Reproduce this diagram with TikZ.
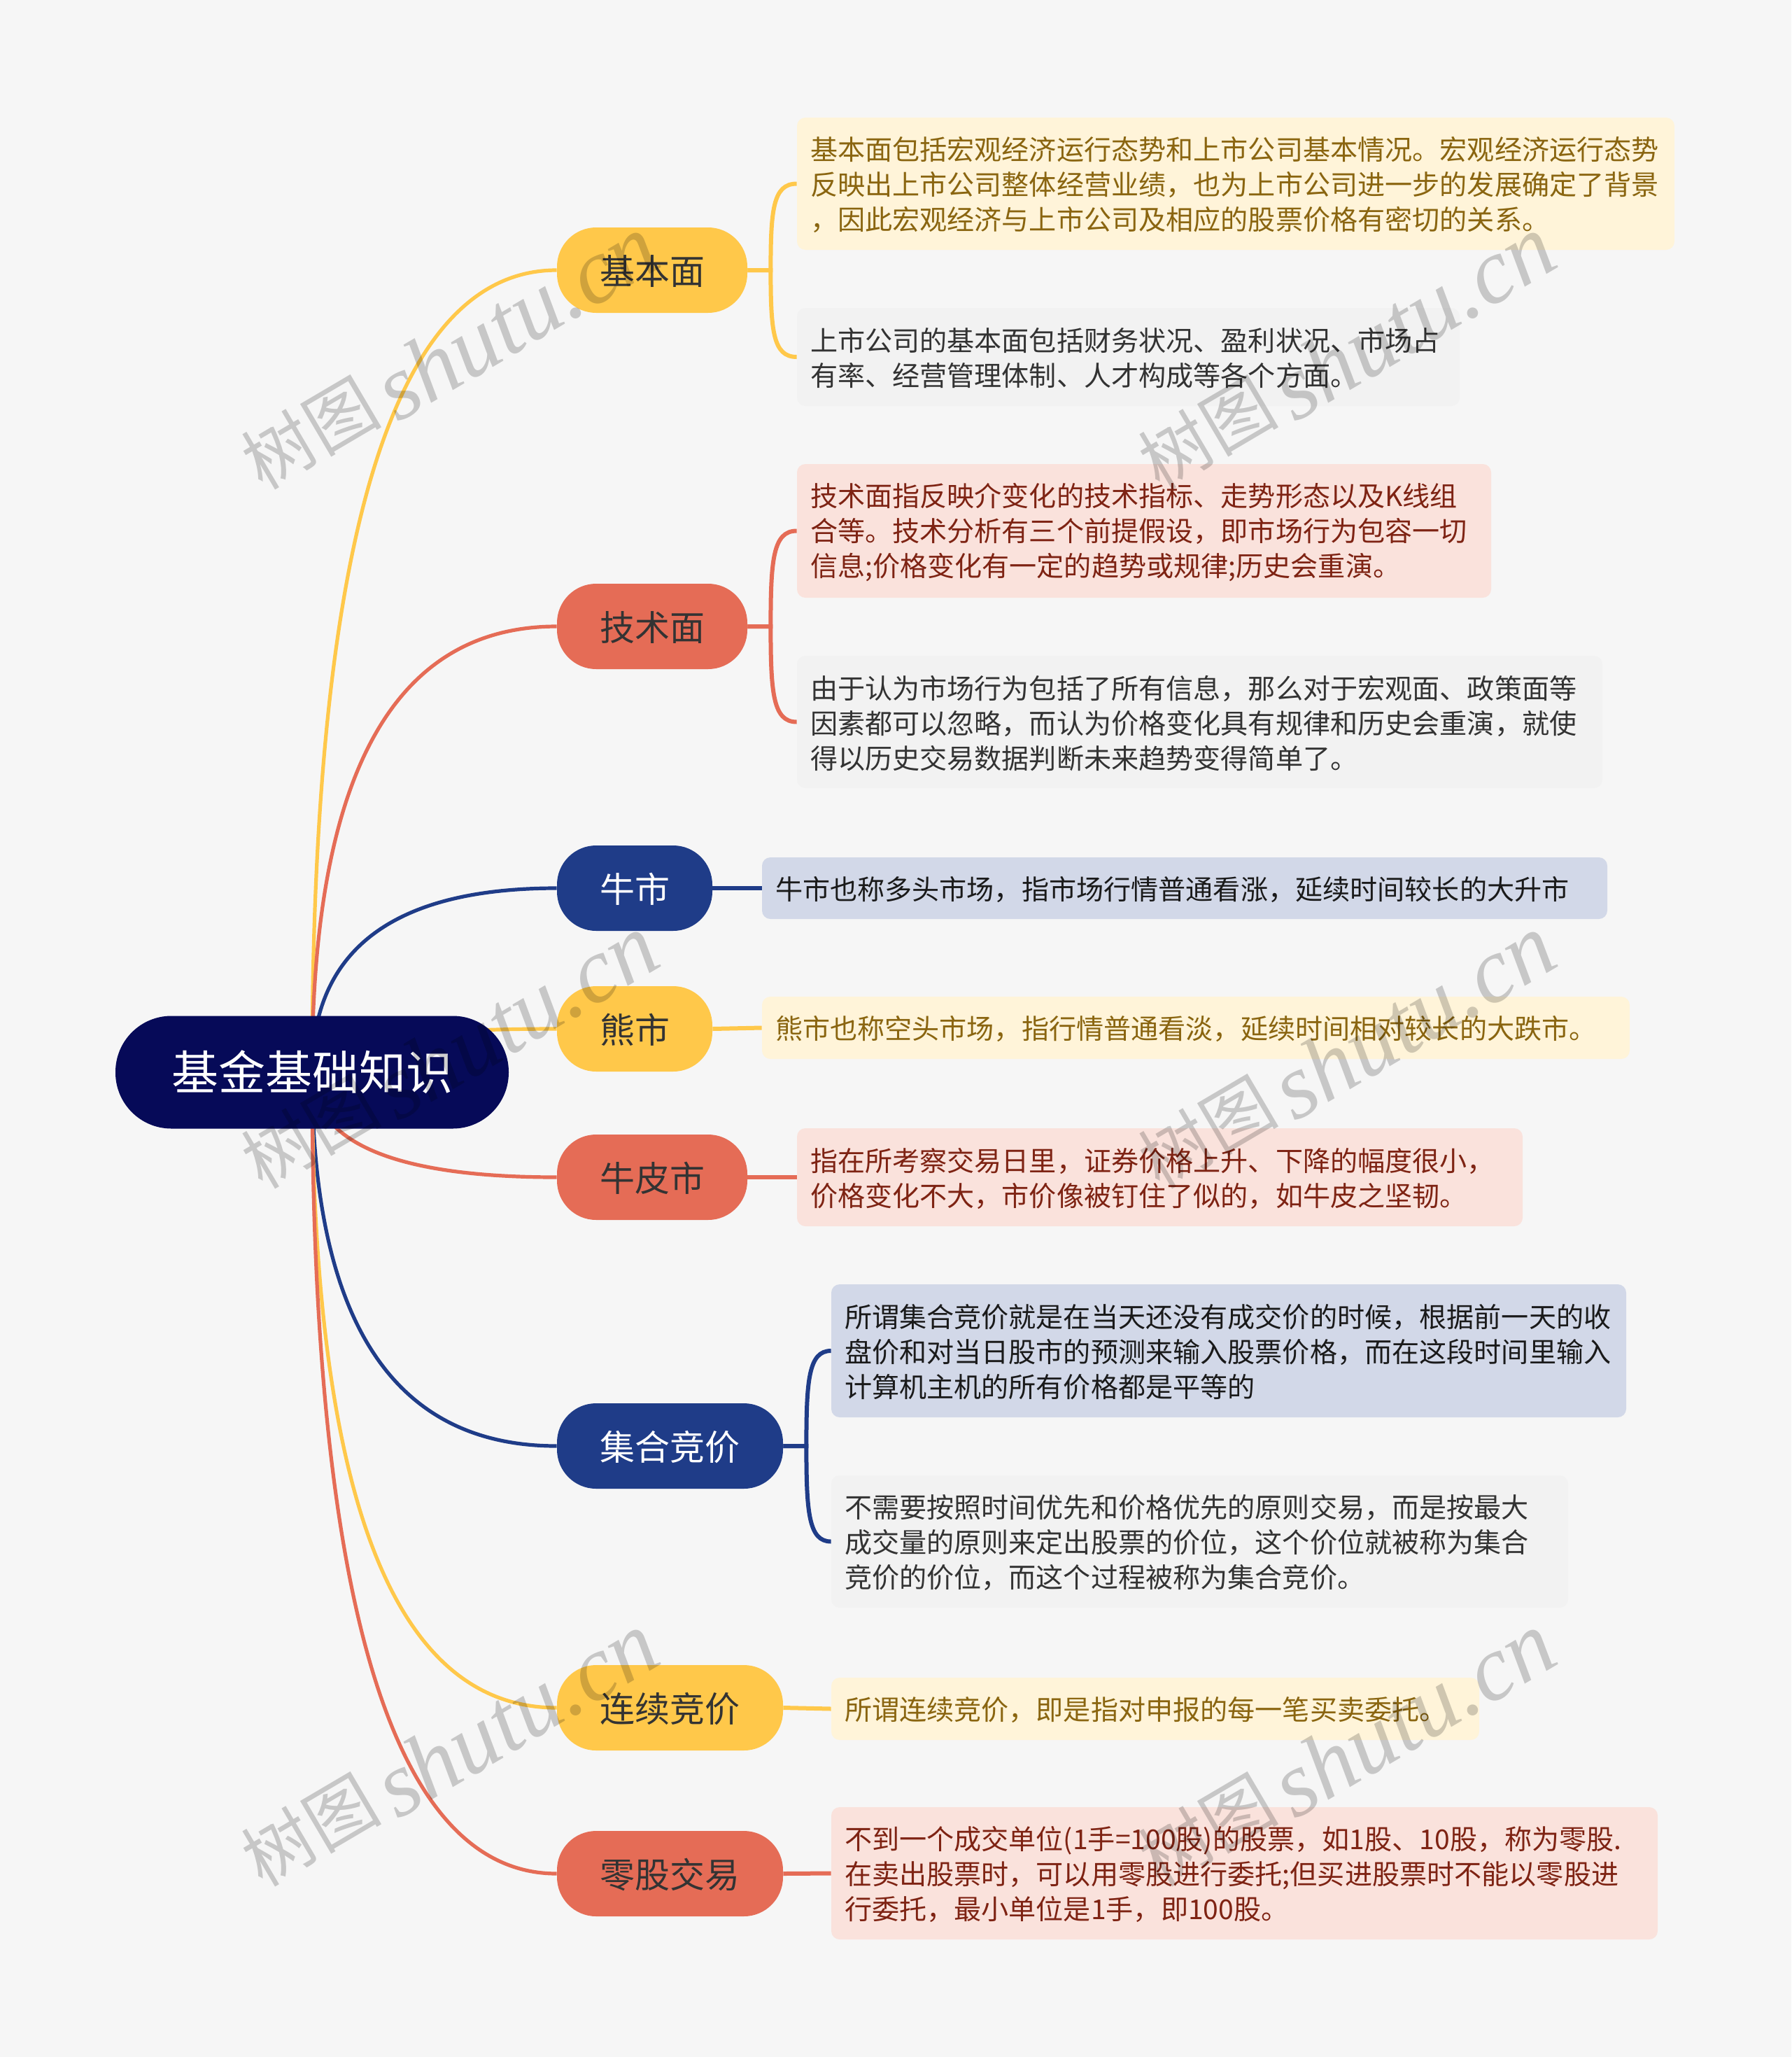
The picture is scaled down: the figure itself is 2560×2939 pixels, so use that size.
\documentclass[tikz,border=0pt]{standalone}
\usepackage{fontspec}
\setmainfont{Noto Sans CJK SC}
\newfontfamily\wmlatin{Liberation Serif}
\usetikzlibrary{calc,backgrounds}
\definecolor{bgc}{HTML}{F6F6F6}
\definecolor{ycol}{HTML}{FFC84A}
\definecolor{rcol}{HTML}{E56C56}
\definecolor{bcol}{HTML}{1F3C88}
\definecolor{navy}{HTML}{060A58}
\definecolor{yleaf}{HTML}{FFF4D9}
\definecolor{rleaf}{HTML}{FAE2DC}
\definecolor{bleaf}{HTML}{D2D8E8}
\definecolor{gleaf}{HTML}{F2F2F2}
\definecolor{ytext}{HTML}{8A6510}
\definecolor{rtext}{HTML}{7E2313}
\definecolor{dtext}{HTML}{333333}
\definecolor{ktext}{HTML}{1A1A1A}
\definecolor{wmc}{HTML}{CFCFCF}
\tikzset{
  rootnode/.style={fill=navy,text=white,rounded corners=40pt,minimum width=281pt,minimum height=80.5pt,inner sep=0pt,font=\fontsize{33.5}{40}\selectfont},
  topic/.style={rounded corners=28pt,minimum height=61pt,inner sep=0pt,text height=20.7pt,text depth=0pt,font=\fontsize{25}{30}\selectfont},
  ytopic/.style={topic,fill=ycol,text=dtext},
  rtopic/.style={topic,fill=rcol,text=dtext},
  btopic/.style={topic,fill=bcol,text=white},
  leafbase/.style={rounded corners=6pt,inner ysep=0pt,inner xsep=9.5pt,align=left,font=\fontsize{19.56}{25}\selectfont,execute at begin node={\rule{0pt}{18.5pt}}},
  yleafs/.style={leafbase,fill=yleaf,text=ytext},
  rleafs/.style={leafbase,fill=rleaf,text=rtext},
  bleafs/.style={leafbase,fill=bleaf,text=ktext},
  gleafs/.style={leafbase,fill=gleaf,text=dtext},
  lone/.style={line width=2.6pt,draw=#1},
  ltwo/.style={line width=3pt,draw=#1},
  wm/.style={text=wmc,rotate=30.5,inner sep=0pt,text height=45pt,text depth=6pt}
}
% rounded box given by its corners in reference pixels
\newcommand\leafbox[7]{%
  \pgfmathsetmacro\lw{(#5-#3)/2}\pgfmathsetmacro\lh{(#6-#4)/2}\pgfmathsetmacro\lt{\lw-19}%
  \node[#2,minimum width=\lw pt,minimum height=\lh pt,text width=\lt pt] (#1) at ({(#3+#5)/2},{(#4+#6)/2}) {#7};}
% a branch leaving the centre of the root
\newcommand\branch[2]{%
  \draw[lone=#1] (root.center) .. controls ($(root.center)!0.667!(root.center |- #2.west)$) and ($(#2.west)!0.667!(root.center |- #2.west)$) .. (#2.west);}
% a fork arm from a topic to one leaf
\newcommand\fork[3]{%
  \draw[ltwo=#1] (#2.east) -- ++(33,0) coordinate (tk) .. controls ($(tk)!0.69!(tk |- #3.west)$) and ($(tk |- #3.west)+(3,0)$) .. (#3.west);}
\newcommand\straight[3]{\draw[ltwo=#1] (#2.east) -- (#3.west);}
\newcommand\wmark[3]{%
  \node[wm,anchor=center] (#1) at (#2,#3) {\raisebox{7pt}[0pt][0pt]{\fontsize{50}{50}\selectfont 树图}\hspace{7.5pt}{\wmlatin\itshape\fontsize{66}{66}\selectfont shutu.cn}};}
\begin{document}
\begin{tikzpicture}[x=0.5pt,y=-0.5pt]
\useasboundingbox (0,0) rectangle (2560,2939);
\node[rootnode] (root) at (446,1532) {基金基础知识};
\node[ytopic,minimum width=136pt] (jb) at (932,386) {基本面};
\node[rtopic,minimum width=136pt] (js) at (932,895) {技术面};
\node[btopic,minimum width=111pt] (nm) at (907,1269) {牛市};
\node[ytopic,minimum width=111pt] (xm) at (907,1470) {熊市};
\node[rtopic,minimum width=136pt] (np) at (932,1682) {牛皮市};
\node[btopic,minimum width=161.5pt] (jh) at (957.5,2066) {集合竞价};
\node[ytopic,minimum width=161.5pt] (lx) at (957.5,2440) {连续竞价};
\node[rtopic,minimum width=161.5pt] (lg) at (957.5,2677) {零股交易};
\leafbox{a1}{yleafs}{1139}{168}{2393}{357}{基本面包括宏观经济运行态势和上市公司基本情况。宏观经济运行态势\\反映出上市公司整体经营业绩，也为上市公司进一步的发展确定了背景\\，因此宏观经济与上市公司及相应的股票价格有密切的关系。}
\leafbox{a2}{gleafs}{1139}{440}{2086}{580}{上市公司的基本面包括财务状况、盈利状况、市场占\\有率、经营管理体制、人才构成等各个方面。}
\leafbox{b1}{rleafs}{1139}{663}{2131}{854}{技术面指反映介变化的技术指标、走势形态以及K线组\\合等。技术分析有三个前提假设，即市场行为包容一切\\信息;价格变化有一定的趋势或规律;历史会重演。}
\leafbox{b2}{gleafs}{1139}{937}{2290}{1126}{由于认为市场行为包括了所有信息，那么对于宏观面、政策面等\\因素都可以忽略，而认为价格变化具有规律和历史会重演，就使\\得以历史交易数据判断未来趋势变得简单了。}
\leafbox{c1}{bleafs}{1089}{1225}{2297}{1313}{牛市也称多头市场，指市场行情普通看涨，延续时间较长的大升市}
\leafbox{d1}{yleafs}{1089}{1424}{2329}{1513}{熊市也称空头市场，指行情普通看淡，延续时间相对较长的大跌市。}
\leafbox{e1}{rleafs}{1139}{1612}{2176}{1752}{指在所考察交易日里，证券价格上升、下降的幅度很小，\\价格变化不大，市价像被钉住了似的，如牛皮之坚韧。}
\leafbox{f1}{bleafs}{1188}{1835}{2324}{2025}{所谓集合竞价就是在当天还没有成交价的时候，根据前一天的收\\盘价和对当日股市的预测来输入股票价格，而在这段时间里输入\\计算机主机的所有价格都是平等的}
\leafbox{f2}{gleafs}{1188}{2108}{2241}{2297}{不需要按照时间优先和价格优先的原则交易，而是按最大\\成交量的原则来定出股票的价位，这个价位就被称为集合\\竞价的价位，而这个过程被称为集合竞价。}
\leafbox{g1}{yleafs}{1188}{2397}{2114}{2486}{所谓连续竞价，即是指对申报的每一笔买卖委托。}
\leafbox{h1}{rleafs}{1188}{2582}{2369}{2771}{不到一个成交单位(1手=100股)的股票，如1股、10股，称为零股.\\在卖出股票时，可以用零股进行委托;但买进股票时不能以零股进\\行委托，最小单位是1手，即100股。}
\begin{scope}[on background layer]
\fill[bgc] (0,0) rectangle (2560,2939);
\branch{ycol}{jb}
\branch{rcol}{js}
\branch{bcol}{nm}
\branch{ycol}{xm}
\branch{rcol}{np}
\branch{bcol}{jh}
\branch{ycol}{lx}
\branch{rcol}{lg}
\fork{ycol}{jb}{a1}
\fork{ycol}{jb}{a2}
\fork{rcol}{js}{b1}
\fork{rcol}{js}{b2}
\straight{bcol}{nm}{c1}
\straight{ycol}{xm}{d1}
\straight{rcol}{np}{e1}
\fork{bcol}{jh}{f1}
\fork{bcol}{jh}{f2}
\straight{ycol}{lx}{g1}
\straight{rcol}{lg}{h1}
\end{scope}
\begin{scope}[blend mode=multiply]
\wmark{w1}{647}{513}
\wmark{w2}{1929}{513}
\wmark{w3}{647}{1512}
\wmark{w4}{1929}{1512}
\wmark{w5}{647}{2509}
\wmark{w6}{1929}{2509}
\end{scope}
\end{tikzpicture}
\end{document}
